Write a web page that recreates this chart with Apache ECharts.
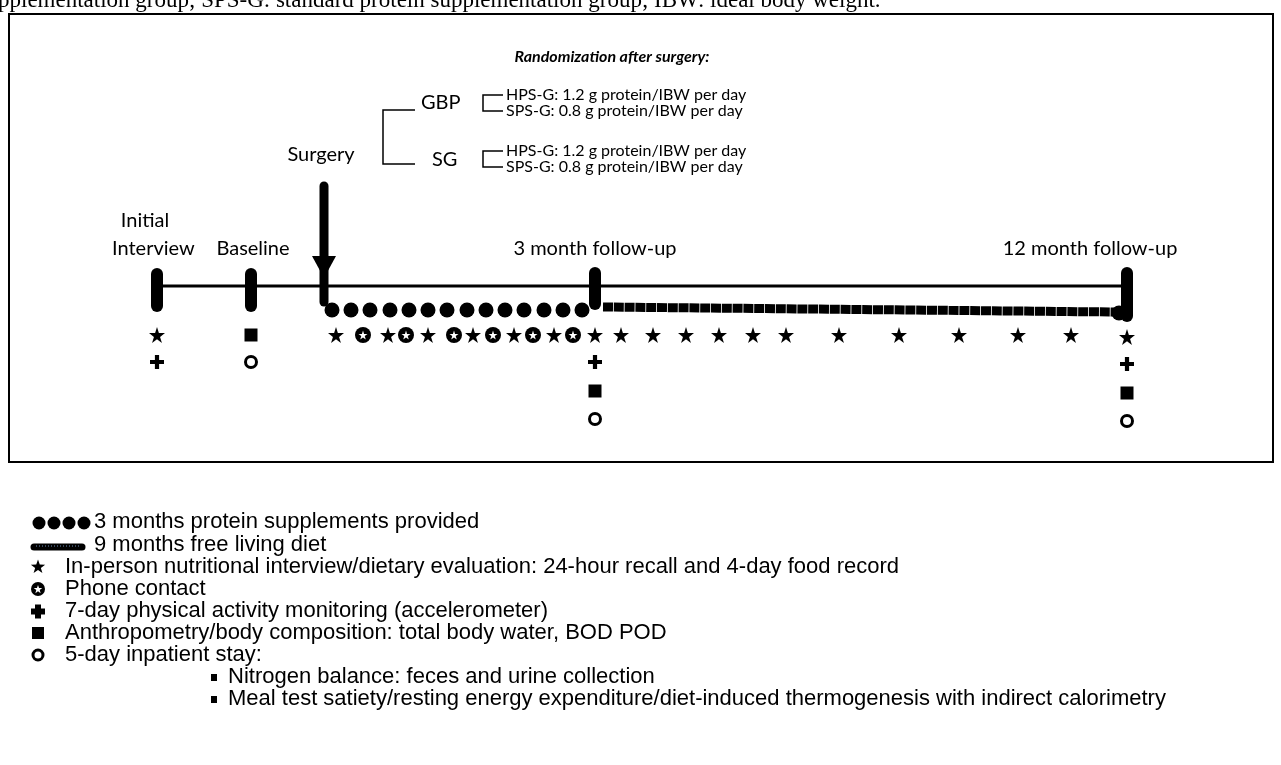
<!DOCTYPE html>
<html>
<head>
<meta charset="utf-8">
<script src="https://cdn.jsdelivr.net/npm/echarts@6/dist/echarts.min.js"></script>
<style>
html, body { margin: 0; padding: 0; background: #fff; }
#main { width: 1281px; height: 765px; }
</style>
</head>
<body>
<div id="main"></div>
<script>
// visits on the schematic timeline (x in diagram units)
var timepointNames = ['Initial\nInterview', 'Baseline', 'Surgery', '3 month follow-up', '12 month follow-up'];
var timepointX = [157, 251, 324, 595, 1127];
// protein supplement dots, surgery -> 3 months
var supplementX = [332, 351, 370, 390, 409, 428, 447, 467, 486, 505, 524, 544, 563, 582];
// free living diet, 3 -> 12 months
var freeLivingX = [603, 1115];
// contacts between visits
var inPersonX = [336, 388, 428, 473, 514, 554, 621, 653, 686, 719, 753, 786, 839, 899, 959, 1018, 1071];
var phoneX = [363, 406, 454, 493, 533, 573];
// measurements stacked under each visit
var visitMarks = [
	['star', 'plus'],
	['square', 'ring'],
	[],
	['star', 'plus', 'square', 'ring'],
	['star', 'plus', 'square', 'ring']
];
var groups = ['GBP', 'SG'];
var arms = ['HPS-G: 1.2 g protein/IBW per day', 'SPS-G: 0.8 g protein/IBW per day'];
var legendItems = [
	'3 months protein supplements provided',
	'9 months free living diet',
	'In-person nutritional interview/dietary evaluation: 24-hour recall and 4-day food record',
	'Phone contact',
	'7-day physical activity monitoring (accelerometer)',
	'Anthropometry/body composition: total body water, BOD POD',
	'5-day inpatient stay:'
];
var inpatientItems = [
	'Nitrogen balance: feces and urine collection',
	'Meal test satiety/resting energy expenditure/diet-induced thermogenesis with indirect calorimetry'
];

// layout
var lineY = 286;
var rowY = [335, 362, 391, 419];
var STAR = 'path://M50,0L61.8,36.2L100,36.2L69.1,58.8L80.9,95.1L50,72.7L19.1,95.1L30.9,58.8L0,36.2L38.2,36.2Z';
var PLUS = 'path://M35,0H65V35H100V65H65V100H35V65H0V35H35Z';
var LBL = '20px Lato';
var SMALL = '16px Lato';
var LEG = '22px "Liberation Sans"';

var chart = echarts.init(document.getElementById('main'));

var marks = { star: [], plus: [], square: [], ring: [] };
visitMarks.forEach(function (list, i) {
	list.forEach(function (m, r) {
		marks[m].push([timepointX[i], rowY[r] + (i == 4 ? 2 : 0)]);
	});
});
inPersonX.forEach(function (x) { marks.star.push([x, rowY[0]]); });

var black = { color: '#000', opacity: 1 };

function vbar(x, y1, y2, w) {
	return {
		type: 'line', data: [[x, y1], [x, y2]], symbol: 'none', silent: true,
		lineStyle: { color: '#000', width: w, cap: 'round' }, z: 3
	};
}

var series = [
	{
		type: 'line', data: [[timepointX[0], lineY], [timepointX[4], lineY]], symbol: 'none',
		lineStyle: { color: '#000', width: 3 }, z: 2
	},
	vbar(timepointX[0], 274, 306, 12),
	vbar(timepointX[1], 274, 306, 12),
	vbar(timepointX[3], 273, 304, 12),
	vbar(timepointX[4], 273, 316, 12),
	vbar(timepointX[2], 186, 302, 9),
	{
		type: 'scatter', data: [[timepointX[2], 267]], symbol: 'triangle', symbolRotate: 180,
		symbolSize: [24, 22], itemStyle: black, z: 4
	},
	{
		type: 'scatter', data: supplementX.map(function (x) { return [x, 310]; }),
		symbol: 'circle', symbolSize: 15, itemStyle: black
	},
	{
		type: 'line', data: [[freeLivingX[0], 307], [freeLivingX[1], 312]], symbol: 'none',
		lineStyle: { color: '#000', width: 9, type: [10, 0.8] }
	},
	{
		type: 'scatter', data: [[freeLivingX[1] + 4, 313]], symbol: 'circle', symbolSize: 15,
		itemStyle: black
	},
	{
		type: 'scatter', data: marks.star, symbol: STAR, symbolSize: 16,
		itemStyle: black
	},
	{
		type: 'scatter', data: phoneX.map(function (x) { return [x, rowY[0]]; }),
		symbol: 'circle', symbolSize: 16, itemStyle: black
	},
	{
		type: 'scatter', data: phoneX.map(function (x) { return [x, rowY[0]]; }),
		symbol: STAR, symbolSize: 9, itemStyle: { color: '#fff', opacity: 1 }, z: 5
	},
	{
		type: 'scatter', data: marks.plus, symbol: PLUS, symbolSize: 14,
		itemStyle: black
	},
	{
		type: 'scatter', data: marks.square, symbol: 'rect', symbolSize: 13,
		itemStyle: black
	},
	{
		type: 'scatter', data: marks.ring, symbol: 'circle', symbolSize: 11,
		itemStyle: { color: '#fff', opacity: 1, borderColor: '#000', borderWidth: 3 }
	}
];

function txt(x, y, s, font, align) {
	return {
		type: 'text', x: x, y: y, silent: true,
		style: { text: s, font: font, fill: '#000', textAlign: align || 'left', textVerticalAlign: 'middle', verticalAlign: 'middle' }
	};
}
function starPts(cx, cy, r) {
	var pts = [];
	for (var k = 0; k < 10; k++) {
		var rr = k % 2 ? r * 0.4 : r;
		var a = -Math.PI / 2 + k * Math.PI / 5;
		pts.push([cx + rr * Math.cos(a), cy + rr * Math.sin(a)]);
	}
	return pts;
}
function bracket(x1, x2, y1, y2) {
	return {
		type: 'polyline', silent: true,
		shape: { points: [[x2, y1], [x1, y1], [x1, y2], [x2, y2]] },
		style: { stroke: '#000', lineWidth: 1.5, fill: null }
	};
}

var legX = 65, legY = [522, 545, 567, 589, 611, 633, 655];
var graphic = [
	txt(-2, 1, 'pplementation group; SPS-G: standard protein supplementation group; IBW: ideal body weight.', '23px "Liberation Serif"'),
	{ type: 'rect', silent: true, shape: { x: 9, y: 14, width: 1264, height: 448 }, style: { stroke: '#000', lineWidth: 2, fill: null } },
	txt(612, 57, 'Randomization after surgery:', 'italic bold 16px Lato', 'center'),
	txt(421, 103, groups[0], LBL),
	txt(432, 160, groups[1], LBL),
	bracket(383, 415, 110, 164),
	bracket(483, 503, 95, 111),
	bracket(483, 503, 151, 167),
	txt(506, 95, arms[0], SMALL),
	txt(506, 111, arms[1], SMALL),
	txt(506, 151, arms[0], SMALL),
	txt(506, 167, arms[1], SMALL),
	txt(321, 155, timepointNames[2], LBL, 'center'),
	txt(145, 221, 'Initial', LBL, 'center'),
	txt(112, 249, 'Interview', LBL),
	txt(timepointX[1] + 2, 249, timepointNames[1], LBL, 'center'),
	txt(timepointX[3], 249, timepointNames[3], LBL, 'center'),
	txt(1090, 249, timepointNames[4], LBL, 'center')
];

// legend
[39, 54, 69, 84].forEach(function (x) {
	graphic.push({ type: 'circle', silent: true, shape: { cx: x, cy: legY[0] + 1, r: 6.5 }, style: { fill: '#000' } });
});
graphic.push({ type: 'line', silent: true, shape: { x1: 34, y1: legY[1] + 2, x2: 82, y2: legY[1] + 2 }, style: { stroke: '#000', lineWidth: 7, lineCap: 'round' } });
graphic.push({ type: 'line', silent: true, shape: { x1: 36, y1: legY[1] + 1, x2: 80, y2: legY[1] + 1 }, style: { stroke: '#6f8fb8', lineWidth: 1, lineDash: [1, 2] } });
graphic.push({ type: 'polygon', silent: true, shape: { points: starPts(38, legY[2], 7.5) }, style: { fill: '#000' } });
graphic.push({ type: 'circle', silent: true, shape: { cx: 38, cy: legY[3], r: 7 }, style: { fill: '#000' } });
graphic.push({ type: 'polygon', silent: true, shape: { points: starPts(38, legY[3] + 0.5, 4.5) }, style: { fill: '#fff' } });
graphic.push({ type: 'rect', silent: true, shape: { x: 35, y: legY[4] - 6.5, width: 6, height: 14 }, style: { fill: '#000' } });
graphic.push({ type: 'rect', silent: true, shape: { x: 31, y: legY[4] - 2.5, width: 14, height: 6 }, style: { fill: '#000' } });
graphic.push({ type: 'rect', silent: true, shape: { x: 32, y: legY[5] - 6, width: 12, height: 12 }, style: { fill: '#000' } });
graphic.push({ type: 'circle', silent: true, shape: { cx: 38, cy: legY[6], r: 5 }, style: { fill: '#fff', stroke: '#000', lineWidth: 3 } });
graphic.push(txt(94, legY[0], legendItems[0], LEG));
graphic.push(txt(94, legY[1], legendItems[1], LEG));
for (var i = 2; i < legendItems.length; i++) graphic.push(txt(legX, legY[i], legendItems[i], LEG));
inpatientItems.forEach(function (s, k) {
	var y = 677 + k * 22;
	graphic.push({ type: 'rect', silent: true, shape: { x: 211, y: y - 3, width: 6, height: 7 }, style: { fill: '#000' } });
	graphic.push(txt(228, y, s, LEG));
});

var option = {
	backgroundColor: '#fff',
	animation: false,
	grid: { left: 0, right: 0, top: 0, bottom: 0 },
	xAxis: { type: 'value', min: 0, max: 1281, show: false },
	yAxis: { type: 'value', min: 0, max: 765, inverse: true, show: false },
	series: series,
	graphic: graphic
};
chart.setOption(option);
</script>
</body>
</html>
